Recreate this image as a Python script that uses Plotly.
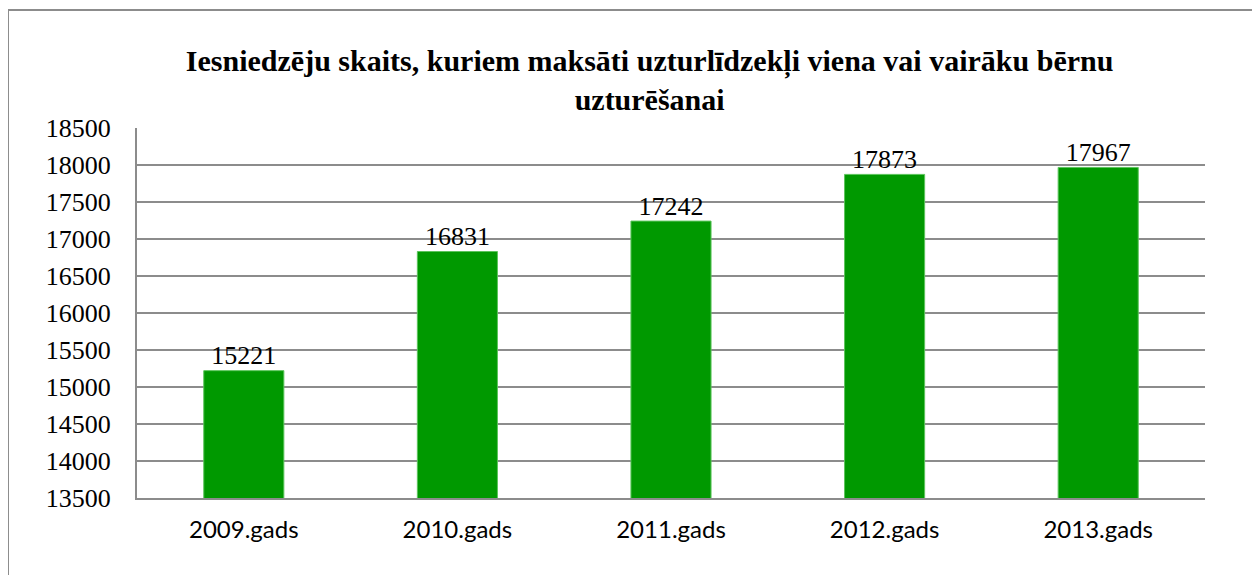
import plotly.graph_objects as go

years = ["2009.gads", "2010.gads", "2011.gads", "2012.gads", "2013.gads"]
counts = [15221, 16831, 17242, 17873, 17967]
y_ticks = [13500, 14000, 14500, 15000, 15500, 16000, 16500, 17000, 17500, 18000, 18500]

title_text = ("Iesniedzēju skaits, kuriem maksāti uzturlīdzekļi viena vai vairāku bērnu"
              "<br>uzturēšanai")

serif = "Liberation Serif, Times New Roman, serif"

fig = go.Figure()

fig.add_trace(go.Bar(
    x=years,
    y=counts,
    marker=dict(color="#009900", line=dict(color="#5cc45c", width=1)),
    width=0.375,
    hoverinfo="x+y",
))

# value labels sitting right on top of the bars
fig.add_trace(go.Scatter(
    x=years,
    y=counts,
    mode="text",
    text=[str(v) for v in counts],
    textposition="top center",
    textfont=dict(family=serif, size=26, color="black"),
    cliponaxis=False,
    hoverinfo="skip",
))

# outer chart border (runs off the right and bottom edges)
fig.add_shape(
    type="rect", xref="paper", yref="paper",
    x0=-0.1208, x1=1.2, y0=-0.6, y1=1.3189,
    line=dict(color="#8c8c8c", width=2),
    fillcolor="rgba(0,0,0,0)", layer="below",
)

fig.update_layout(
    width=1252,
    height=567,
    autosize=False,
    margin=dict(l=129, r=55, t=120, b=77),
    plot_bgcolor="white",
    paper_bgcolor="white",
    showlegend=False,
    title=dict(
        text=title_text,
        x=0.48, xref="paper", xanchor="center",
        y=0.889, yref="container", yanchor="middle",
        font=dict(family=serif, size=30, color="black", weight="bold"),
    ),
    xaxis=dict(
        showgrid=False,
        showline=True, linecolor="#8c8c8c", linewidth=2,
        tickfont=dict(family="Lato, sans-serif", size=24, color="black"),
        ticklabelstandoff=9,
    ),
    yaxis=dict(
        range=[13500, 18500],
        tickvals=y_ticks,
        tickformat="d",
        showgrid=True, gridcolor="#8c8c8c", gridwidth=2,
        showline=True, linecolor="#8c8c8c", linewidth=2,
        zeroline=False,
        tickfont=dict(family=serif, size=26, color="black"),
        ticklabelstandoff=19,
    ),
)

fig.write_html("out.html")
